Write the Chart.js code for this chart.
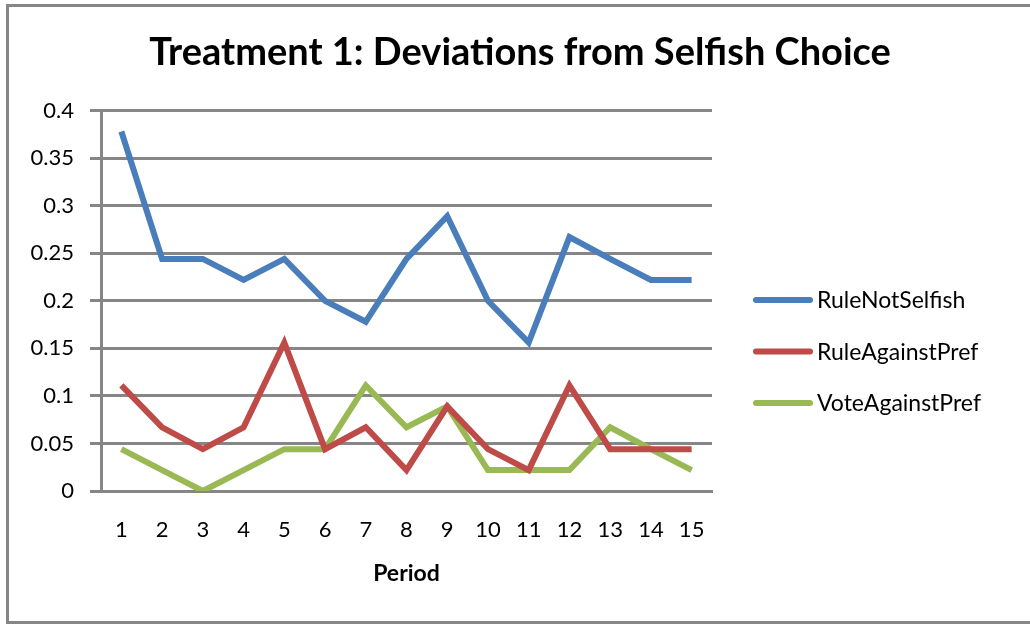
<!DOCTYPE html>
<html>
<head>
<meta charset="UTF-8">
<title>Treatment 1: Deviations from Selfish Choice</title>
<script src="https://cdn.jsdelivr.net/npm/chart.js"></script>
<style>
    html, body { margin: 0; padding: 0; background: #fff; }
    #wrap { position: relative; width: 1030px; height: 624px; }
</style>
</head>
<body>
<div id="wrap"><canvas id="chart" width="1030" height="624"></canvas></div>
<script>
    // values (fractions of 45 subjects, roughly)
    const periods = ['1','2','3','4','5','6','7','8','9','10','11','12','13','14','15'];
    const ruleNotSelfish = [0.378, 0.244, 0.244, 0.222, 0.244, 0.2, 0.178, 0.244, 0.289, 0.2, 0.156, 0.267, 0.244, 0.222, 0.222];
    const ruleAgainstPref = [0.111, 0.067, 0.044, 0.067, 0.156, 0.044, 0.067, 0.022, 0.089, 0.044, 0.022, 0.111, 0.044, 0.044, 0.044];
    const voteAgainstPref = [0.044, 0.022, 0, 0.022, 0.044, 0.044, 0.111, 0.067, 0.089, 0.022, 0.022, 0.022, 0.067, 0.044, 0.022];
    const yTicks = [0, 0.05, 0.1, 0.15, 0.2, 0.25, 0.3, 0.35, 0.4];

    const FONT = 'Lato, "Open Sans", sans-serif';
    const GRID = '#868686';

    // white page with the grey frame round it
    const frame = {
        id: 'frame',
        beforeDraw(chart) {
            const c = chart.ctx;
            c.save();
            c.fillStyle = '#fff';
            c.fillRect(0, 0, chart.width, chart.height);
            c.strokeStyle = GRID;
            c.lineWidth = 3;
            c.beginPath();
            c.moveTo(1040, 5.5);
            c.lineTo(7.5, 5.5);
            c.lineTo(7.5, 622.5);
            c.lineTo(1040, 622.5);
            c.stroke();
            c.restore();
        }
    };

    // legend on the right, Excel style: a short thick line then the name
    const sideLegend = {
        id: 'sideLegend',
        afterDraw(chart) {
            const c = chart.ctx;
            const x0 = chart.chartArea.right + 41;
            c.save();
            c.font = '23px ' + FONT;
            c.textBaseline = 'middle';
            c.fillStyle = '#000';
            chart.data.datasets.forEach((ds, i) => {
                const y = 300 + i * 51.5;
                c.strokeStyle = ds.borderColor;
                c.lineWidth = 6;
                c.lineCap = 'round';
                c.beginPath();
                c.moveTo(x0 + 3, y);
                c.lineTo(x0 + 57, y);
                c.stroke();
                c.fillText(ds.label, x0 + 64, y + 1);
            });
            c.restore();
        }
    };

    const line = (label, data, color) => ({
        label: label,
        data: data,
        borderColor: color,
        backgroundColor: color,
        borderWidth: 6,
        pointRadius: 0,
        tension: 0,
        borderJoinStyle: 'miter',
        yAxisID: 'y'
    });

    new Chart(document.getElementById('chart'), {
        type: 'line',
        data: {
            labels: periods,
            datasets: [
                line('RuleNotSelfish', ruleNotSelfish, '#4A7EBB'),
                line('RuleAgainstPref', ruleAgainstPref, '#BE4B48'),
                line('VoteAgainstPref', voteAgainstPref, '#98B954')
            ]
        },
        options: {
            responsive: false,
            animation: false,
            layout: { padding: { left: 10, right: 0, top: 0, bottom: 37 } },
            plugins: {
                title: {
                    display: true,
                    text: 'Treatment 1: Deviations from Selfish Choice',
                    color: '#000',
                    font: { family: FONT, size: 38, weight: 'bold' },
                    padding: { top: 30, bottom: 35 }
                },
                legend: { display: false },
                tooltip: { enabled: false }
            },
            scales: {
                x: {
                    offset: true,
                    afterFit(scale) { scale.height = 96; },
                    grid: { display: false, drawTicks: false },
                    border: { display: true, color: GRID, width: 3 },
                    ticks: { color: '#000', font: { family: FONT, size: 22 }, padding: 26, maxRotation: 0 },
                    title: {
                        display: true,
                        text: 'Period',
                        color: '#000',
                        font: { family: FONT, size: 23, weight: 'bold' },
                        padding: { top: 4, bottom: 0 }
                    }
                },
                y: {
                    min: 0,
                    max: 0.4,
                    afterBuildTicks(scale) { scale.ticks = yTicks.map(v => ({ value: v })); },
                    afterFit(scale) { scale.width = 91; },
                    grid: { color: GRID, lineWidth: 3, tickLength: 11, drawTicks: true },
                    border: { display: true, color: GRID, width: 3 },
                    ticks: {
                        color: '#000',
                        font: { family: FONT, size: 22 },
                        padding: 16,
                        callback: v => String(+Number(v).toFixed(2))
                    }
                },
                // empty axis that only reserves the room for the legend
                side: {
                    position: 'right',
                    display: true,
                    grid: { display: false },
                    border: { display: false },
                    ticks: { display: false },
                    afterFit(scale) { scale.width = 318; }
                }
            }
        },
        plugins: [frame, sideLegend]
    });
</script>
</body>
</html>
